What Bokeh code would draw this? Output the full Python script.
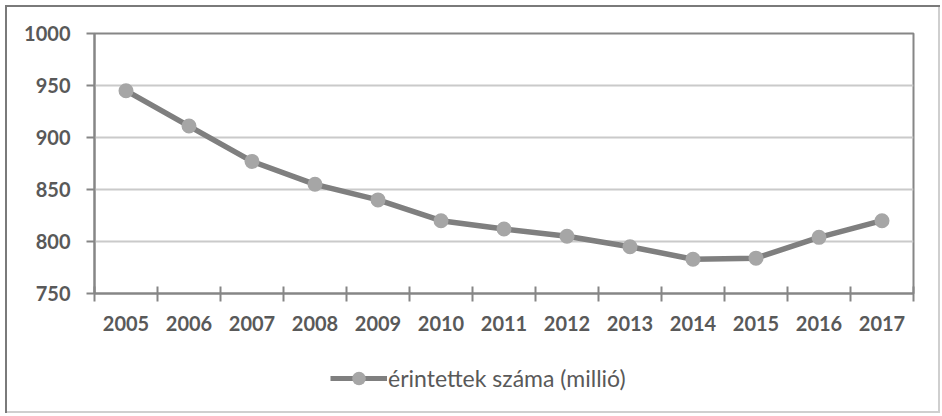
from bokeh.plotting import figure
from bokeh.layouts import column
from bokeh.models import Range1d, FixedTicker, Legend, LegendItem
from bokeh.embed import file_html
from bokeh.resources import INLINE

years = ["2005", "2006", "2007", "2008", "2009", "2010", "2011",
         "2012", "2013", "2014", "2015", "2016", "2017"]
values = [945, 911, 877, 855, 840, 820, 812, 805, 795, 783, 784, 804, 820]
y_ticks = [750, 800, 850, 900, 950, 1000]
series_name = "érintettek száma (millió)"

xs = list(range(len(years)))

TEXT = "#595959"
AXIS = "#868686"
LINE = "#7f7f7f"
MARK = "#a6a6a6"

# ---------------- main chart ----------------
p = figure(width=935, height=340, output_backend="svg", toolbar_location=None,
           x_range=Range1d(-0.5, len(years) - 0.5), y_range=Range1d(750, 1000),
           min_border_left=89, min_border_top=28, min_border_right=27,
           min_border_bottom=52)
p.border_fill_color = None
p.background_fill_color = None
p.outline_line_color = AXIS
p.outline_line_width = 2

p.xgrid.grid_line_color = None
p.ygrid.grid_line_color = "#cacaca"
p.ygrid.grid_line_width = 2

xa = p.xaxis[0]
xa.ticker = FixedTicker(ticks=xs, minor_ticks=[i - 0.5 for i in range(len(years) + 1)])
xa.major_label_overrides = {i: y for i, y in enumerate(years)}
xa.major_tick_out = 0
xa.major_tick_in = 0
xa.minor_tick_in = 7
xa.minor_tick_out = 8
xa.minor_tick_line_color = AXIS
xa.minor_tick_line_width = 2
xa.axis_line_color = AXIS
xa.axis_line_width = 2
xa.major_label_text_font = "Lato"
xa.major_label_text_font_style = "bold"
xa.major_label_text_font_size = "20px"
xa.major_label_text_color = TEXT
xa.major_label_standoff = 14

ya = p.yaxis[0]
ya.ticker = FixedTicker(ticks=y_ticks)
ya.major_tick_out = 8
ya.major_tick_in = 0
ya.minor_tick_in = 0
ya.minor_tick_out = 0
ya.major_tick_line_color = AXIS
ya.major_tick_line_width = 2
ya.axis_line_color = AXIS
ya.axis_line_width = 2
ya.major_label_text_font = "Lato"
ya.major_label_text_font_style = "bold"
ya.major_label_text_font_size = "20px"
ya.major_label_text_color = TEXT
ya.major_label_standoff = 16

p.line(xs, values, line_color=LINE, line_width=5.5)
p.scatter(xs, values, size=15, fill_color=MARK, line_color=None)

# ---------------- legend strip ----------------
q = figure(width=935, height=68, output_backend="svg", toolbar_location=None,
           x_axis_type=None, y_axis_type=None,
           x_range=Range1d(100, 101), y_range=Range1d(100, 101),
           min_border=0)
q.border_fill_color = None
q.background_fill_color = None
q.outline_line_color = None
q.grid.visible = False
lq = q.line(xs, values, line_color=LINE, line_width=5, visible=False)
sq = q.scatter(xs, values, size=14, fill_color=MARK, line_color=None, visible=False)

legend = Legend(items=[LegendItem(label=series_name, renderers=[lq, sq])],
                location=(236, 18), orientation="horizontal",
                glyph_width=57, glyph_height=34, label_standoff=1,
                padding=0, margin=0, border_line_color=None,
                background_fill_color=None, label_text_font="Lato",
                label_text_font_size="23px", label_text_color=TEXT,
                inactive_fill_alpha=0)
q.add_layout(legend, "center")

layout = column(p, q, spacing=0)
layout.styles = {"margin-left": "5px", "margin-top": "5px",
                 "box-shadow": "inset 2px 2px 0 #7a7a7a, inset -2px -2px 0 #cfcfcf"}

open("out.html", "w").write(file_html(layout, INLINE))
